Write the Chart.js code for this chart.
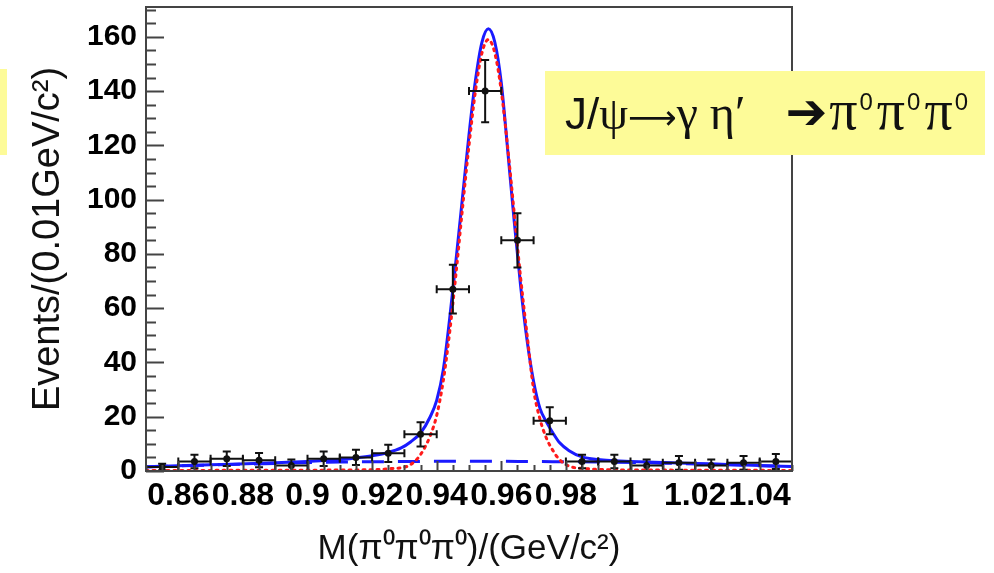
<!DOCTYPE html>
<html>
<head>
<meta charset="utf-8">
<script src="https://cdn.jsdelivr.net/npm/chart.js@4.4.0/dist/chart.umd.min.js"></script>
<style>
  html, body { margin: 0; padding: 0; background: #fff; }
</style>
</head>
<body>
<canvas id="fit" width="994" height="573"></canvas>
<script>
// measured data: bin centres (GeV/c^2), counts and their errors
const binCenters = [0.855, 0.865, 0.875, 0.885, 0.895, 0.905, 0.915, 0.925, 0.935, 0.945,
                    0.955, 0.965, 0.975, 0.985, 0.995, 1.005, 1.015, 1.025, 1.035, 1.045];
const counts = [1.5, 3.5, 4.5, 4, 2, 4.5, 5, 6.5, 13.5, 67,
                140, 85, 18.5, 3.5, 3.5, 2, 3, 2, 3, 3.5];
const countErrors = [1.2, 2.5, 2.7, 2.6, 2.2, 2.7, 2.8, 3.2, 4.5, 9,
                     11.5, 10, 5, 2.5, 2.5, 2.2, 2.5, 2.2, 2.5, 2.8];

// total fit (solid blue)
const totalX = [0.85, 0.87, 0.89, 0.90, 0.91, 0.915, 0.92, 0.925, 0.929, 0.932, 0.935, 0.938,
                0.940, 0.942, 0.944, 0.946, 0.948, 0.950, 0.952, 0.954, 0.956, 0.958, 0.960,
                0.962, 0.964, 0.966, 0.968, 0.970, 0.972, 0.974, 0.976, 0.978, 0.981, 0.985,
                0.99, 0.995, 1.00, 1.01, 1.02, 1.03, 1.04, 1.05];
const totalY = [1.6, 2.3, 3.0, 3.5, 4.2, 4.8, 5.6, 6.8, 8.5, 10.8, 14, 20,
                26, 37, 56, 78, 101, 124, 144, 158, 163, 158, 143,
                118, 92, 68, 48, 33, 23, 18, 14, 10.5, 7.5, 5.2,
                4.2, 3.8, 3.5, 3.1, 2.8, 2.4, 2.0, 1.7];

// signal component (red dotted)
const signalX = [0.85, 0.90, 0.915, 0.92, 0.926, 0.931, 0.934, 0.936, 0.938, 0.940, 0.942,
                 0.944, 0.946, 0.948, 0.950, 0.952, 0.954, 0.956, 0.958, 0.960, 0.962,
                 0.964, 0.966, 0.968, 0.970, 0.972, 0.974, 0.976, 0.978, 0.981, 0.986,
                 0.992, 1.00, 1.05];
const signalY = [0.2, 0.3, 0.4, 0.5, 0.9, 1.8, 4.5, 8, 13, 20.5, 33,
                 51, 73, 97, 120, 140, 154, 159, 154, 140, 119,
                 95, 71, 50, 30, 19, 12, 7.5, 4.2, 1.8, 0.9,
                 0.5, 0.4, 0.2];

// background component (blue dashed)
const bkgX = [0.85, 0.87, 0.89, 0.91, 0.93, 0.95, 0.97, 0.99, 1.01, 1.03, 1.05];
const bkgY = [1.5, 2.2, 2.8, 3.3, 3.5, 3.6, 3.5, 3.3, 2.9, 2.3, 1.6];

const xTickValues = [0.86, 0.88, 0.9, 0.92, 0.94, 0.96, 0.98, 1, 1.02, 1.04];
const xTickLabels = ["0.86", "0.88", "0.9", "0.92", "0.94", "0.96", "0.98", "1", "1.02", "1.04"];
const yTickValues = [0, 20, 40, 60, 80, 100, 120, 140, 160];

const toPoints = (xs, ys) => xs.map((x, i) => ({ x: x, y: ys[i] }));

const SANS = "'Liberation Sans', Arial, sans-serif";
const SERIF = "'Liberation Serif', 'DejaVu Serif', serif";
const SYM = "'DejaVu Sans', sans-serif";

// error bars, frame, inward ticks and the label box
const rootStyle = {
  id: "rootStyle",
  afterDatasetsDraw(chart) {
    const { ctx, scales: { x, y } } = chart;
    ctx.save();
    ctx.strokeStyle = "#111";
    ctx.lineWidth = 2;
    binCenters.forEach((c, i) => {
      const px = x.getPixelForValue(c);
      const py = y.getPixelForValue(counts[i]);
      const x0 = x.getPixelForValue(c - 0.005);
      const x1 = x.getPixelForValue(c + 0.005);
      const yTop = y.getPixelForValue(counts[i] + countErrors[i]);
      const yBot = y.getPixelForValue(Math.max(0, counts[i] - countErrors[i]));
      ctx.beginPath();
      ctx.moveTo(x0, py); ctx.lineTo(x1, py);
      ctx.moveTo(px, yTop); ctx.lineTo(px, yBot);
      ctx.moveTo(px - 4, yTop); ctx.lineTo(px + 4, yTop);
      ctx.moveTo(px - 4, yBot); ctx.lineTo(px + 4, yBot);
      ctx.moveTo(x0, py - 4); ctx.lineTo(x0, py + 4);
      ctx.moveTo(x1, py - 4); ctx.lineTo(x1, py + 4);
      ctx.stroke();
    });
    ctx.restore();
  },
  afterDraw(chart) {
    const { ctx, chartArea: a, scales: { x, y } } = chart;
    ctx.save();
    ctx.strokeStyle = "#444";
    ctx.lineWidth = 2;
    ctx.strokeRect(a.left, a.top, a.right - a.left, a.bottom - a.top);

    // ticks point into the frame
    ctx.beginPath();
    for (let v = 0; v <= 170; v += 5) {
      const py = Math.round(y.getPixelForValue(v)) + 0.5;
      const len = v % 20 === 0 ? 18 : 10;
      ctx.moveTo(a.left, py); ctx.lineTo(a.left + len, py);
    }
    for (let k = 0; k <= 40; k++) {
      const v = 0.85 + k * 0.005;
      const px = Math.round(x.getPixelForValue(v)) + 0.5;
      const len = k % 4 === 2 ? 10 : 6;
      ctx.moveTo(px, a.bottom); ctx.lineTo(px, a.bottom - len);
    }
    ctx.stroke();

    // partly visible box at the left edge
    ctx.fillStyle = "#fdfb98";
    ctx.fillRect(0, 69, 7, 86);

    // decay label, laid out piece by piece then fitted to the box
    ctx.fillStyle = "#fdfb98";
    ctx.fillRect(545, 71, 440, 84);
    ctx.fillStyle = "#111";
    ctx.textAlign = "left";
    ctx.textBaseline = "alphabetic";
    const parts = [
      { t: "J/", f: SANS, size: 44, gap: 0 },
      { t: "\u03c8", f: SERIF, size: 46, gap: 0 },
      { t: "\u27f6", f: SYM, size: 34, gap: 0 },
      { t: "\u03b3 \u03b7\u2032", f: SERIF, size: 48, gap: 40 },
      { t: "\u2794", f: SYM, size: 50, gap: 2 },
      { t: "\u03c0", f: SERIF, size: 56, gap: 2 }, { t: "0", f: SANS, size: 24, gap: 4, sup: true },
      { t: "\u03c0", f: SERIF, size: 56, gap: 2 }, { t: "0", f: SANS, size: 24, gap: 4, sup: true },
      { t: "\u03c0", f: SERIF, size: 56, gap: 2 }, { t: "0", f: SANS, size: 24, gap: 0, sup: true }
    ];
    let total = 0;
    parts.forEach(p => {
      ctx.font = p.size + "px " + p.f;
      p.w = ctx.measureText(p.t).width;
      total += p.w + p.gap;
    });
    const startX = 565, endX = 968;
    ctx.translate(startX, 0);
    ctx.scale((endX - startX) / total, 1);
    let tx = 0;
    parts.forEach(p => {
      ctx.font = p.size + "px " + p.f;
      ctx.fillText(p.t, tx, p.sup ? 110 : 129);
      tx += p.w + p.gap;
    });
    ctx.restore();
  }
};

new Chart(document.getElementById("fit").getContext("2d"), {
  type: "scatter",
  data: {
    datasets: [
      {
        label: "Data",
        data: toPoints(binCenters, counts),
        pointRadius: 3.5,
        pointBackgroundColor: "#111",
        pointBorderWidth: 0,
        showLine: false,
        order: 0
      },
      {
        label: "Signal",
        data: toPoints(signalX, signalY),
        showLine: true,
        borderColor: "#ff1a1a",
        borderWidth: 3,
        borderDash: [2, 5],
        borderCapStyle: "round",
        pointRadius: 0,
        cubicInterpolationMode: "monotone",
        order: 1
      },
      {
        label: "Total fit",
        data: toPoints(totalX, totalY),
        showLine: true,
        borderColor: "#1a1aff",
        borderWidth: 3,
        pointRadius: 0,
        cubicInterpolationMode: "monotone",
        order: 2
      },
      {
        label: "Background",
        data: toPoints(bkgX, bkgY),
        showLine: true,
        borderColor: "#1a1aff",
        borderWidth: 3,
        borderDash: [22, 14],
        pointRadius: 0,
        cubicInterpolationMode: "monotone",
        order: 3
      }
    ]
  },
  options: {
    responsive: false,
    animation: false,
    devicePixelRatio: 1,
    layout: { padding: { top: 7, right: 202, left: 0, bottom: 0 } },
    plugins: { legend: { display: false }, tooltip: { enabled: false } },
    scales: {
      x: {
        type: "linear",
        min: 0.85,
        max: 1.05,
        grid: { display: false, drawTicks: false },
        border: { display: true, color: "#444", width: 2 },
        afterBuildTicks: s => { s.ticks = xTickValues.map(v => ({ value: v })); },
        afterFit: s => { s.height = 102; s.paddingLeft = 0; s.paddingRight = 0; },
        ticks: {
          autoSkip: false,
          maxRotation: 0,
          padding: 6,
          color: "#000",
          font: { family: SANS, size: 32, weight: "bold" },
          callback: (v, i) => xTickLabels[i]
        },
        title: {
          display: true,
          text: "M(\u03c0\u2070\u03c0\u2070\u03c0\u2070)/(GeV/c\u00b2)",
          color: "#111",
          font: { family: SANS, size: 35 },
          padding: { top: 0, bottom: 3 }
        }
      },
      y: {
        min: 0,
        max: 171,
        grid: { display: false, drawTicks: false },
        border: { display: true, color: "#444", width: 2 },
        afterBuildTicks: s => { s.ticks = yTickValues.map(v => ({ value: v })); },
        afterFit: s => { s.width = 146; s.paddingTop = 0; s.paddingBottom = 0; },
        ticks: {
          padding: 9,
          color: "#000",
          font: { family: SANS, size: 30, weight: "bold" }
        },
        title: {
          display: true,
          text: "Events/(0.01GeV/c\u00b2)",
          color: "#111",
          font: { family: SANS, size: 38 },
          padding: { top: 26, bottom: 0 }
        }
      }
    }
  },
  plugins: [rootStyle]
});
</script>
</body>
</html>
